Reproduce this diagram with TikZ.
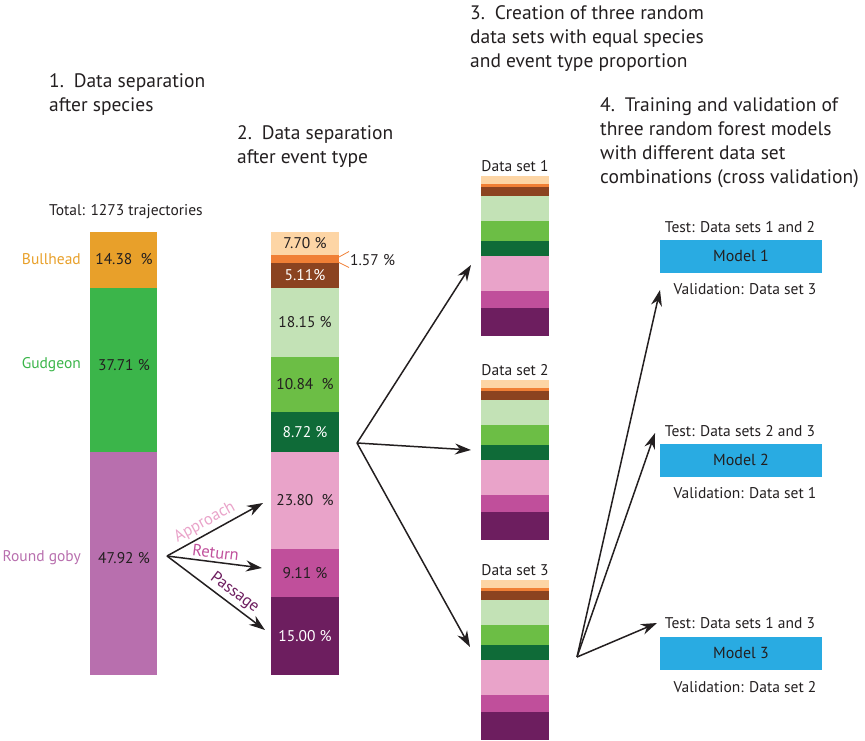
\documentclass[tikz,border=0pt]{standalone}
\usepackage{fontspec}
\setmainfont{PT Sans}
\usetikzlibrary{arrows.meta}

\definecolor{ink}{HTML}{231F20}
\definecolor{bullhead}{HTML}{E8A02A}
\definecolor{gudgeon}{HTML}{3BB54A}
\definecolor{goby}{HTML}{B86FAE}
\definecolor{peach}{HTML}{FDD5A5}
\definecolor{orng}{HTML}{F07F35}
\definecolor{brown}{HTML}{8B4320}
\definecolor{lgreen}{HTML}{C3E2B6}
\definecolor{mgreen}{HTML}{6CBE45}
\definecolor{dgreen}{HTML}{0F6B38}
\definecolor{pink}{HTML}{E9A3C9}
\definecolor{magenta}{HTML}{C04F9B}
\definecolor{purple}{HTML}{6D1E5F}
\definecolor{modelblue}{HTML}{29ABE2}

\tikzset{
    title/.style={font=\fontsize{19.5}{24}\selectfont, text=ink, align=left, anchor=west, inner sep=0pt},
    small/.style={font=\fontsize{15.5}{18}\selectfont, text=ink, inner sep=0pt},
    evt/.style={font=\fontsize{16.5}{18}\selectfont, inner sep=0pt, sloped, above=3pt},
    arr/.style={-{Stealth[length=16pt,width=11pt]}, line width=1.5pt, ink},
    model/.style={fill=modelblue, minimum width=162pt, minimum height=33pt, inner sep=0pt,
        font=\fontsize{16}{18}\selectfont, text=ink}
}

\begin{document}
\begin{tikzpicture}[x=1pt,y=-1pt]
    \useasboundingbox (0,0) rectangle (865,741);

    % headings
    \node[title] (t1) at (49,94.5) {1.\enspace Data separation\\after species};
    \node[title] (t2) at (237,146.5) {2.\enspace Data separation\\after event type};
    \node[title] (t3) at (470,38.5) {3.\enspace Creation of three random\\data sets with equal species\\and event type proportion};
    \node[title] (t4) at (600,142.5) {4.\enspace Training and validation of\\three random forest models\\with different data set\\combinations (cross validation)};

    % species bar
    \node[small, anchor=west] (total) at (49,212) {Total: 1273 trajectories};
    \fill[bullhead] (90,232) rectangle (157,288);
    \fill[gudgeon] (90,288) rectangle (157,452);
    \fill[goby] (90,452) rectangle (157,675);
    \node[small] (p1) at (124,259) {14.38~~\%};
    \node[small] (p2) at (124,365) {37.71 \%};
    \node[small] (p3) at (124,558) {47.92 \%};
    \node[small, anchor=east, text=bullhead] (bh) at (81,259) {Bullhead};
    \node[small, anchor=east, text=gudgeon] (gu) at (81,365) {Gudgeon};
    \node[small, anchor=east, text=goby] (rg) at (81,558) {Round goby};

    % event type bar
    \foreach \top/\bot/\col/\lab/\tc [count=\i] in {232/255/peach/7.70 \%/ink, 255/263/orng//ink,
        263/288/brown/5.11\%/white, 288/357/lgreen/18.15 \%/ink, 357/412/mgreen/10.84~~\%/ink,
        412/452/dgreen/8.72 \%/white, 452/549/pink/23.80~~\%/ink, 549/597/magenta/9.11 \%/ink,
        597/675/purple/15.00 \%/white} {
        \fill[\col] (271,\top) rectangle (339,\bot);
        \node[small, text=\tc] (e\i) at (305,{(\top+\bot)/2}) {\lab};
    }
    \coordinate (o1) at (339,257);
    \coordinate (o2) at (339,262.5);
    \node[small, anchor=west] (p157) at (350,260) {1.57 \%};
    \draw[orng, line width=0.8pt] (o1) -- (349,251.5);
    \draw[orng, line width=0.8pt] (o2) -- (349,267.5);

    % arrows from round goby
    \coordinate (g0) at (167,556);
    \coordinate (g1) at (263,503);
    \coordinate (g2) at (262,568);
    \coordinate (g3) at (265,630);
    \draw[arr] (g0) -- node[evt, pos=0.45, text=pink] {Approach} (g1);
    \draw[arr] (g0) -- node[evt, pos=0.5, text=magenta] {Return} (g2);
    \draw[arr] (g0) -- node[evt, pos=0.62, text=purple] {Passage} (g3);

    % three data sets
    \foreach \ds/\top in {1/176,2/380,3/580} {
        \node[small] (dl\ds) at (515,{\top-10}) {Data set \ds};
        \foreach \a/\b/\col in {0/8/peach,8/11/orng,11/20/brown,20/45/lgreen,45/65/mgreen,
            65/80/dgreen,80/115/pink,115/132/magenta,132/160/purple}
            \fill[\col] (481,{\top+\a}) rectangle (549,{\top+\b});
    }
    \coordinate (d0) at (357,443);
    \coordinate (d1) at (471,265);
    \coordinate (d2) at (471,450);
    \coordinate (d3) at (470,647);
    \draw[arr] (d0) -- (d1);
    \draw[arr] (d0) -- (d2);
    \draw[arr] (d0) -- (d3);

    % models
    \node[model] (m1) at (741,256) {Model 1};
    \node[model] (m2) at (741,460) {Model 2};
    \node[model] (m3) at (741,653) {Model 3};
    \node[small] (ts1) at (740,227) {Test: Data sets 1 and 2};
    \node[small] (ts2) at (740,431) {Test: Data sets 2 and 3};
    \node[small] (ts3) at (740,623) {Test: Data sets 1 and 3};
    \node[small] (va1) at (745,289) {Validation: Data set 3};
    \node[small] (va2) at (745,493) {Validation: Data set 1};
    \node[small] (va3) at (745,687) {Validation: Data set 2};
    \coordinate (c0) at (577,657);
    \coordinate (c1) at (660,290);
    \coordinate (c2) at (655,433);
    \coordinate (c3) at (657,623);
    \draw[arr] (c0) -- (c1);
    \draw[arr] (c0) -- (c2);
    \draw[arr] (c0) -- (c3);
\end{tikzpicture}
\end{document}
